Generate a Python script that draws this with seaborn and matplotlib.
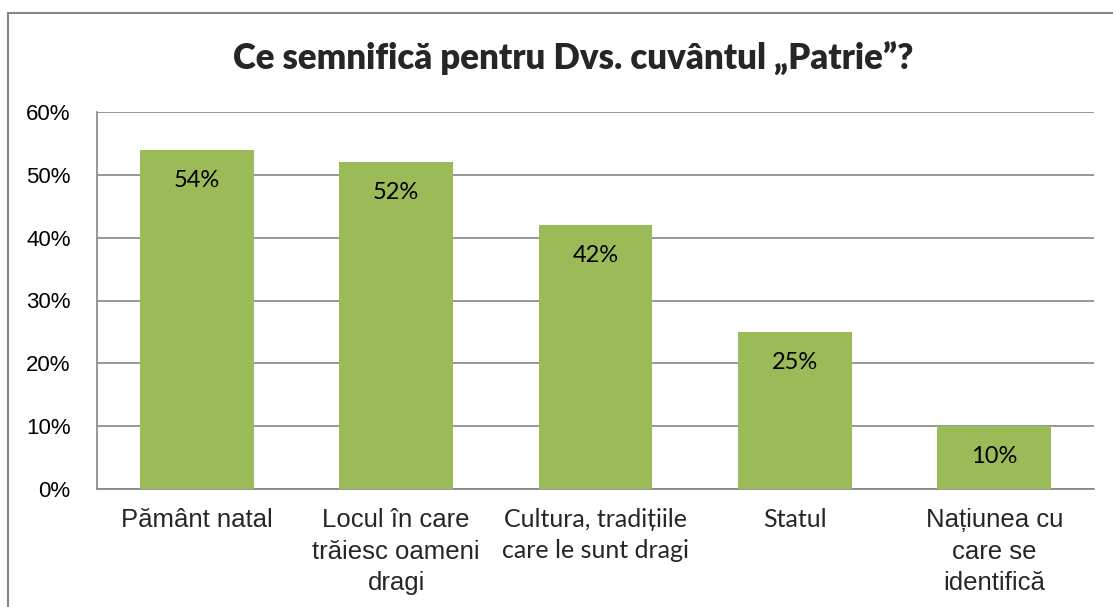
import pandas as pd
import matplotlib.pyplot as plt
import seaborn as sns
from matplotlib.ticker import PercentFormatter

# ======= data =======
categories = ['Pământ natal', 'Locul în care\ntrăiesc oameni\ndragi',
              'Cultura, tradițiile\ncare le sunt dragi', 'Statul',
              'Națiunea cu\ncare se\nidentifică']
values = [54, 52, 42, 25, 10]
label_fonts = ['Liberation Sans', 'Liberation Sans', 'Lato', 'Lato', 'Liberation Sans']
label_sizes = [18.5, 18.5, 18, 18, 18.5]
label_spacing = [1.38, 1.38, 1.42, 1.42, 1.38]
yticks = [0, 10, 20, 30, 40, 50, 60]
title = 'Ce semnifică pentru Dvs. cuvântul „Patrie”?'

df = pd.DataFrame({'cat': categories, 'val': values})

sns.set_theme(style='white')
plt.rcParams['font.family'] = ['Liberation Sans', 'DejaVu Sans']

fig = plt.figure(figsize=(11.13, 6.07), dpi=100)
ax = fig.add_axes([97 / 1113, 1 - 489 / 607, 997 / 1113, 377 / 607])

sns.barplot(data=df, x='cat', y='val', color='#9BBB59', saturation=1,
            width=0.57, linewidth=0, ax=ax, zorder=3)

ax.set_ylim(0, 60)
ax.set_yticks(yticks)
ax.yaxis.set_major_formatter(PercentFormatter(decimals=0))
ax.grid(axis='y', color='#868686', linewidth=1.2, zorder=0)
ax.set_axisbelow(True)
for s in ['top', 'right']:
    ax.spines[s].set_visible(False)
for s in ['left', 'bottom']:
    ax.spines[s].set_color('#868686')
    ax.spines[s].set_linewidth(1.2)
ax.tick_params(axis='y', length=0, pad=19, labelsize=16, labelcolor='black')
ax.tick_params(axis='x', length=0, pad=14)
ax.set_xlabel('')
ax.set_ylabel('')

ax.set_xticks(range(len(categories)))
ax.set_xticklabels(categories)
for lbl, fam, sz, ls in zip(ax.get_xticklabels(), label_fonts, label_sizes, label_spacing):
    lbl.set_family([fam, 'DejaVu Sans'])
    lbl.set_fontsize(sz)
    lbl.set_linespacing(ls)
    lbl.set_verticalalignment('top')

# value labels inside the bars, ~30 px under the top
for i, v in enumerate(values):
    ax.annotate(f'{v}%', (i, v), xytext=(0, -22), textcoords='offset points',
                ha='center', va='center', fontsize=17, family=['Lato', 'DejaVu Sans'],
                color='black', zorder=4)

fig.text(573 / 1113, 1 - 58 / 607, title, ha='center', va='center',
         fontsize=25, fontweight='heavy', family=['Lato', 'DejaVu Sans'])

# frame around the chart
fig.add_artist(plt.Line2D([8 / 1113, 1], [1 - 13 / 607] * 2, color='#868686',
                          linewidth=1.5, transform=fig.transFigure))
fig.add_artist(plt.Line2D([8 / 1113] * 2, [0, 1 - 13 / 607], color='#868686',
                          linewidth=1.5, transform=fig.transFigure))

plt.savefig('out.png', dpi=100)
